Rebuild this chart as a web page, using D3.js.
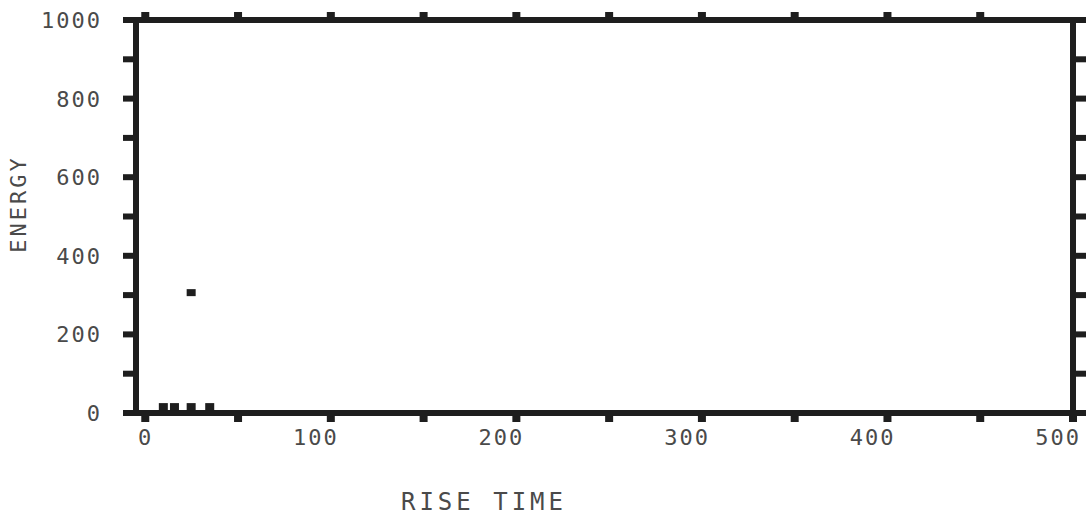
<!DOCTYPE html>
<html>
<head>
<meta charset="utf-8">
<script src="https://cdn.jsdelivr.net/npm/d3@7"></script>
<style>
  body { margin: 0; background: #fff; }
  text { font-family: "DejaVu Sans Mono", monospace; fill: #4a4a4a; }
</style>
</head>
<body>
<div id="container"></div>
<script>
// data
let rise_time = [10, 16, 25, 35, 25],
  energy = [15, 15, 15, 15, 305],
  x_ticks = [0, 100, 200, 300, 400, 500],
  y_ticks = [0, 200, 400, 600, 800, 1000],
  x_minor = d3.range(0, 501, 50),
  y_minor = d3.range(0, 1001, 100)

let width = 1090,
  height = 520,
  frame = { left: 136, right: 1073, top: 20, bottom: 413 }

let svg = d3.select('#container')
  .append('svg')
  .attr('width', width)
  .attr('height', height)

let scale_x = d3.scaleLinear()
  .domain([-5, 500])
  .range([frame.left, frame.right])

let scale_y = d3.scaleLinear()
  .domain([0, 1000])
  .range([frame.bottom, frame.top])

let ink = '#1e1e1e'

// tick blocks
let g_ticks = svg.append('g').attr('fill', ink)
g_ticks.selectAll('.tt').data(x_minor.filter(d => d < 500)).enter().append('rect')
  .attr('x', d => scale_x(d) - 4).attr('y', frame.top - 8)
  .attr('width', 8).attr('height', 8)
g_ticks.selectAll('.tb').data(x_minor).enter().append('rect')
  .attr('x', d => scale_x(d) - 4).attr('y', frame.bottom)
  .attr('width', 8).attr('height', 9)
g_ticks.selectAll('.tl').data(y_minor).enter().append('rect')
  .attr('x', frame.left - 13).attr('y', d => scale_y(d) - 3)
  .attr('width', 13).attr('height', 6)
g_ticks.selectAll('.tr').data(y_minor).enter().append('rect')
  .attr('x', frame.right).attr('y', d => scale_y(d) - 3)
  .attr('width', 13).attr('height', 6)

// frame
svg.append('rect')
  .attr('x', frame.left).attr('y', frame.top)
  .attr('width', frame.right - frame.left)
  .attr('height', frame.bottom - frame.top)
  .attr('fill', 'none')
  .attr('stroke', ink)
  .attr('stroke-width', 6)

// points
svg.append('g').selectAll('rect')
  .data(rise_time).enter().append('rect')
  .attr('x', (d, i) => scale_x(d) - 5)
  .attr('y', (d, i) => scale_y(energy[i]) - 4)
  .attr('width', 9)
  .attr('height', 7)
  .attr('fill', ink)

// tick labels
svg.append('g').selectAll('text')
  .data(x_ticks).enter().append('text')
  .attr('x', d => scale_x(d) + 8)
  .attr('y', frame.bottom + 32)
  .attr('text-anchor', 'end')
  .attr('font-size', 22)
  .attr('letter-spacing', 2)
  .text(d => d)

svg.append('g').selectAll('text')
  .data(y_ticks).enter().append('text')
  .attr('x', 102)
  .attr('y', d => scale_y(d) + 8)
  .attr('text-anchor', 'end')
  .attr('font-size', 22)
  .attr('letter-spacing', 2)
  .text(d => d)

// axis titles
svg.append('text')
  .attr('x', 484).attr('y', 510)
  .attr('text-anchor', 'middle')
  .attr('font-size', 24)
  .attr('letter-spacing', 4)
  .text('RISE TIME')

svg.append('text')
  .attr('transform', 'translate(26,204) rotate(-90)')
  .attr('text-anchor', 'middle')
  .attr('font-size', 22)
  .attr('letter-spacing', 3)
  .text('ENERGY')
</script>
</body>
</html>
